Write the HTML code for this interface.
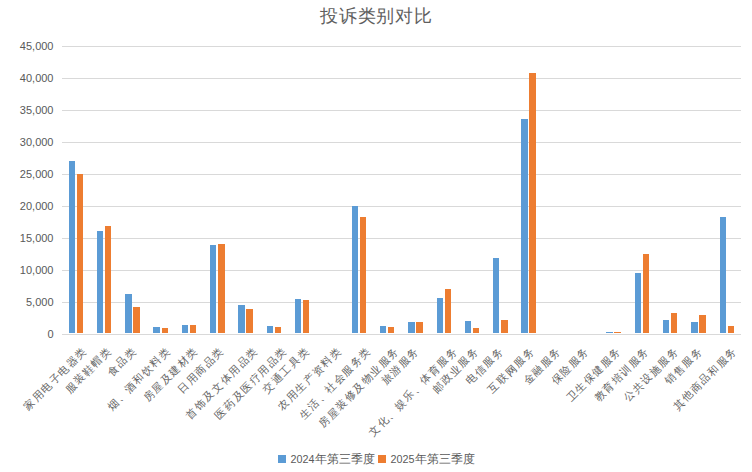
<!DOCTYPE html><html><head><meta charset="utf-8"><style>html,body{margin:0;padding:0;background:#fff;}body{width:752px;height:472px;overflow:hidden;position:relative;}svg{position:absolute;left:0;top:0;}</style></head><body>
<svg width="752" height="472" viewBox="0 0 752 472" font-family="'Liberation Sans', sans-serif">
<rect x="62" y="46" width="679" height="1" fill="#d9d9d9"/>
<rect x="62" y="78" width="679" height="1" fill="#d9d9d9"/>
<rect x="62" y="110" width="679" height="1" fill="#d9d9d9"/>
<rect x="62" y="142" width="679" height="1" fill="#d9d9d9"/>
<rect x="62" y="174" width="679" height="1" fill="#d9d9d9"/>
<rect x="62" y="206" width="679" height="1" fill="#d9d9d9"/>
<rect x="62" y="238" width="679" height="1" fill="#d9d9d9"/>
<rect x="62" y="270" width="679" height="1" fill="#d9d9d9"/>
<rect x="62" y="302" width="679" height="1" fill="#d9d9d9"/>
<rect x="62" y="334" width="679" height="1" fill="#d9d9d9"/>
<text x="53.5" y="49.8" text-anchor="end" font-size="11" fill="#595959">45,000</text>
<text x="53.5" y="81.8" text-anchor="end" font-size="11" fill="#595959">40,000</text>
<text x="53.5" y="113.8" text-anchor="end" font-size="11" fill="#595959">35,000</text>
<text x="53.5" y="145.8" text-anchor="end" font-size="11" fill="#595959">30,000</text>
<text x="53.5" y="177.8" text-anchor="end" font-size="11" fill="#595959">25,000</text>
<text x="53.5" y="209.8" text-anchor="end" font-size="11" fill="#595959">20,000</text>
<text x="53.5" y="241.8" text-anchor="end" font-size="11" fill="#595959">15,000</text>
<text x="53.5" y="273.8" text-anchor="end" font-size="11" fill="#595959">10,000</text>
<text x="53.5" y="305.8" text-anchor="end" font-size="11" fill="#595959">5,000</text>
<text x="53.5" y="337.8" text-anchor="end" font-size="11" fill="#595959">0</text>
<rect x="69" y="161" width="6" height="172" fill="#5b9bd5"/>
<rect x="77" y="174" width="6" height="159" fill="#ed7d31"/>
<rect x="97" y="231" width="6" height="102" fill="#5b9bd5"/>
<rect x="105" y="226" width="6" height="107" fill="#ed7d31"/>
<rect x="125" y="294" width="7" height="39" fill="#5b9bd5"/>
<rect x="133" y="307" width="7" height="26" fill="#ed7d31"/>
<rect x="153" y="327" width="7" height="6" fill="#5b9bd5"/>
<rect x="162" y="328" width="6" height="5" fill="#ed7d31"/>
<rect x="182" y="325" width="6" height="8" fill="#5b9bd5"/>
<rect x="190" y="325" width="6" height="8" fill="#ed7d31"/>
<rect x="210" y="245" width="6" height="88" fill="#5b9bd5"/>
<rect x="218" y="244" width="7" height="89" fill="#ed7d31"/>
<rect x="238" y="305" width="7" height="28" fill="#5b9bd5"/>
<rect x="246" y="309" width="7" height="24" fill="#ed7d31"/>
<rect x="267" y="326" width="6" height="7" fill="#5b9bd5"/>
<rect x="275" y="327" width="6" height="6" fill="#ed7d31"/>
<rect x="295" y="299" width="6" height="34" fill="#5b9bd5"/>
<rect x="303" y="300" width="6" height="33" fill="#ed7d31"/>
<rect x="352" y="206" width="6" height="127" fill="#5b9bd5"/>
<rect x="360" y="217" width="6" height="116" fill="#ed7d31"/>
<rect x="380" y="326" width="6" height="7" fill="#5b9bd5"/>
<rect x="388" y="327" width="6" height="6" fill="#ed7d31"/>
<rect x="408" y="322" width="7" height="11" fill="#5b9bd5"/>
<rect x="416" y="322" width="7" height="11" fill="#ed7d31"/>
<rect x="437" y="298" width="6" height="35" fill="#5b9bd5"/>
<rect x="445" y="289" width="6" height="44" fill="#ed7d31"/>
<rect x="465" y="321" width="6" height="12" fill="#5b9bd5"/>
<rect x="473" y="328" width="6" height="5" fill="#ed7d31"/>
<rect x="493" y="258" width="6" height="75" fill="#5b9bd5"/>
<rect x="501" y="320" width="7" height="13" fill="#ed7d31"/>
<rect x="521" y="119" width="7" height="214" fill="#5b9bd5"/>
<rect x="529" y="73" width="7" height="260" fill="#ed7d31"/>
<rect x="606" y="332" width="7" height="1" fill="#5b9bd5"/>
<rect x="614" y="332" width="7" height="1" fill="#ed7d31"/>
<rect x="635" y="273" width="6" height="60" fill="#5b9bd5"/>
<rect x="643" y="254" width="6" height="79" fill="#ed7d31"/>
<rect x="663" y="320" width="6" height="13" fill="#5b9bd5"/>
<rect x="671" y="313" width="6" height="20" fill="#ed7d31"/>
<rect x="691" y="322" width="7" height="11" fill="#5b9bd5"/>
<rect x="699" y="315" width="7" height="18" fill="#ed7d31"/>
<rect x="720" y="217" width="6" height="116" fill="#5b9bd5"/>
<rect x="728" y="326" width="6" height="7" fill="#ed7d31"/>
<text x="29.11" y="404.24" text-anchor="middle" dominant-baseline="central" font-size="10.6" font-weight="400" fill="#646464" transform="rotate(-45 29.11 404.24)">家</text>
<text x="37.67" y="395.68" text-anchor="middle" dominant-baseline="central" font-size="10.6" font-weight="400" fill="#646464" transform="rotate(-45 37.67 395.68)">用</text>
<text x="46.22" y="387.12" text-anchor="middle" dominant-baseline="central" font-size="10.6" font-weight="400" fill="#646464" transform="rotate(-45 46.22 387.12)">电</text>
<text x="54.78" y="378.57" text-anchor="middle" dominant-baseline="central" font-size="10.6" font-weight="400" fill="#646464" transform="rotate(-45 54.78 378.57)">子</text>
<text x="63.33" y="370.01" text-anchor="middle" dominant-baseline="central" font-size="10.6" font-weight="400" fill="#646464" transform="rotate(-45 63.33 370.01)">电</text>
<text x="71.89" y="361.46" text-anchor="middle" dominant-baseline="central" font-size="10.6" font-weight="400" fill="#646464" transform="rotate(-45 71.89 361.46)">器</text>
<text x="80.45" y="352.90" text-anchor="middle" dominant-baseline="central" font-size="10.6" font-weight="400" fill="#646464" transform="rotate(-45 80.45 352.90)">类</text>
<text x="70.71" y="387.12" text-anchor="middle" dominant-baseline="central" font-size="10.6" font-weight="400" fill="#646464" transform="rotate(-45 70.71 387.12)">服</text>
<text x="79.27" y="378.57" text-anchor="middle" dominant-baseline="central" font-size="10.6" font-weight="400" fill="#646464" transform="rotate(-45 79.27 378.57)">装</text>
<text x="87.83" y="370.01" text-anchor="middle" dominant-baseline="central" font-size="10.6" font-weight="400" fill="#646464" transform="rotate(-45 87.83 370.01)">鞋</text>
<text x="96.38" y="361.46" text-anchor="middle" dominant-baseline="central" font-size="10.6" font-weight="400" fill="#646464" transform="rotate(-45 96.38 361.46)">帽</text>
<text x="104.94" y="352.90" text-anchor="middle" dominant-baseline="central" font-size="10.6" font-weight="400" fill="#646464" transform="rotate(-45 104.94 352.90)">类</text>
<text x="112.72" y="370.01" text-anchor="middle" dominant-baseline="central" font-size="10.6" font-weight="400" fill="#646464" transform="rotate(-45 112.72 370.01)">食</text>
<text x="121.27" y="361.46" text-anchor="middle" dominant-baseline="central" font-size="10.6" font-weight="400" fill="#646464" transform="rotate(-45 121.27 361.46)">品</text>
<text x="129.83" y="352.90" text-anchor="middle" dominant-baseline="central" font-size="10.6" font-weight="400" fill="#646464" transform="rotate(-45 129.83 352.90)">类</text>
<text x="112.78" y="404.24" text-anchor="middle" dominant-baseline="central" font-size="10.6" font-weight="400" fill="#646464" transform="rotate(-45 112.78 404.24)">烟</text>
<text x="121.34" y="395.68" text-anchor="middle" dominant-baseline="central" font-size="10.6" font-weight="400" fill="#646464" transform="rotate(-45 121.34 395.68)">、</text>
<text x="129.90" y="387.12" text-anchor="middle" dominant-baseline="central" font-size="10.6" font-weight="400" fill="#646464" transform="rotate(-45 129.90 387.12)">酒</text>
<text x="138.45" y="378.57" text-anchor="middle" dominant-baseline="central" font-size="10.6" font-weight="400" fill="#646464" transform="rotate(-45 138.45 378.57)">和</text>
<text x="147.01" y="370.01" text-anchor="middle" dominant-baseline="central" font-size="10.6" font-weight="400" fill="#646464" transform="rotate(-45 147.01 370.01)">饮</text>
<text x="155.56" y="361.46" text-anchor="middle" dominant-baseline="central" font-size="10.6" font-weight="400" fill="#646464" transform="rotate(-45 155.56 361.46)">料</text>
<text x="164.12" y="352.90" text-anchor="middle" dominant-baseline="central" font-size="10.6" font-weight="400" fill="#646464" transform="rotate(-45 164.12 352.90)">类</text>
<text x="148.63" y="395.68" text-anchor="middle" dominant-baseline="central" font-size="10.6" font-weight="400" fill="#646464" transform="rotate(-45 148.63 395.68)">房</text>
<text x="157.19" y="387.12" text-anchor="middle" dominant-baseline="central" font-size="10.6" font-weight="400" fill="#646464" transform="rotate(-45 157.19 387.12)">屋</text>
<text x="165.74" y="378.57" text-anchor="middle" dominant-baseline="central" font-size="10.6" font-weight="400" fill="#646464" transform="rotate(-45 165.74 378.57)">及</text>
<text x="174.30" y="370.01" text-anchor="middle" dominant-baseline="central" font-size="10.6" font-weight="400" fill="#646464" transform="rotate(-45 174.30 370.01)">建</text>
<text x="182.86" y="361.46" text-anchor="middle" dominant-baseline="central" font-size="10.6" font-weight="400" fill="#646464" transform="rotate(-45 182.86 361.46)">材</text>
<text x="191.41" y="352.90" text-anchor="middle" dominant-baseline="central" font-size="10.6" font-weight="400" fill="#646464" transform="rotate(-45 191.41 352.90)">类</text>
<text x="183.18" y="387.12" text-anchor="middle" dominant-baseline="central" font-size="10.6" font-weight="400" fill="#646464" transform="rotate(-45 183.18 387.12)">日</text>
<text x="191.74" y="378.57" text-anchor="middle" dominant-baseline="central" font-size="10.6" font-weight="400" fill="#646464" transform="rotate(-45 191.74 378.57)">用</text>
<text x="200.29" y="370.01" text-anchor="middle" dominant-baseline="central" font-size="10.6" font-weight="400" fill="#646464" transform="rotate(-45 200.29 370.01)">商</text>
<text x="208.85" y="361.46" text-anchor="middle" dominant-baseline="central" font-size="10.6" font-weight="400" fill="#646464" transform="rotate(-45 208.85 361.46)">品</text>
<text x="217.40" y="352.90" text-anchor="middle" dominant-baseline="central" font-size="10.6" font-weight="400" fill="#646464" transform="rotate(-45 217.40 352.90)">类</text>
<text x="191.40" y="412.79" text-anchor="middle" dominant-baseline="central" font-size="10.6" font-weight="400" fill="#646464" transform="rotate(-45 191.40 412.79)">首</text>
<text x="199.96" y="404.24" text-anchor="middle" dominant-baseline="central" font-size="10.6" font-weight="400" fill="#646464" transform="rotate(-45 199.96 404.24)">饰</text>
<text x="208.52" y="395.68" text-anchor="middle" dominant-baseline="central" font-size="10.6" font-weight="400" fill="#646464" transform="rotate(-45 208.52 395.68)">及</text>
<text x="217.07" y="387.12" text-anchor="middle" dominant-baseline="central" font-size="10.6" font-weight="400" fill="#646464" transform="rotate(-45 217.07 387.12)">文</text>
<text x="225.63" y="378.57" text-anchor="middle" dominant-baseline="central" font-size="10.6" font-weight="400" fill="#646464" transform="rotate(-45 225.63 378.57)">体</text>
<text x="234.18" y="370.01" text-anchor="middle" dominant-baseline="central" font-size="10.6" font-weight="400" fill="#646464" transform="rotate(-45 234.18 370.01)">用</text>
<text x="242.74" y="361.46" text-anchor="middle" dominant-baseline="central" font-size="10.6" font-weight="400" fill="#646464" transform="rotate(-45 242.74 361.46)">品</text>
<text x="251.30" y="352.90" text-anchor="middle" dominant-baseline="central" font-size="10.6" font-weight="400" fill="#646464" transform="rotate(-45 251.30 352.90)">类</text>
<text x="220.50" y="412.79" text-anchor="middle" dominant-baseline="central" font-size="10.6" font-weight="400" fill="#646464" transform="rotate(-45 220.50 412.79)">医</text>
<text x="229.05" y="404.24" text-anchor="middle" dominant-baseline="central" font-size="10.6" font-weight="400" fill="#646464" transform="rotate(-45 229.05 404.24)">药</text>
<text x="237.61" y="395.68" text-anchor="middle" dominant-baseline="central" font-size="10.6" font-weight="400" fill="#646464" transform="rotate(-45 237.61 395.68)">及</text>
<text x="246.16" y="387.12" text-anchor="middle" dominant-baseline="central" font-size="10.6" font-weight="400" fill="#646464" transform="rotate(-45 246.16 387.12)">医</text>
<text x="254.72" y="378.57" text-anchor="middle" dominant-baseline="central" font-size="10.6" font-weight="400" fill="#646464" transform="rotate(-45 254.72 378.57)">疗</text>
<text x="263.28" y="370.01" text-anchor="middle" dominant-baseline="central" font-size="10.6" font-weight="400" fill="#646464" transform="rotate(-45 263.28 370.01)">用</text>
<text x="271.83" y="361.46" text-anchor="middle" dominant-baseline="central" font-size="10.6" font-weight="400" fill="#646464" transform="rotate(-45 271.83 361.46)">品</text>
<text x="280.39" y="352.90" text-anchor="middle" dominant-baseline="central" font-size="10.6" font-weight="400" fill="#646464" transform="rotate(-45 280.39 352.90)">类</text>
<text x="268.36" y="387.12" text-anchor="middle" dominant-baseline="central" font-size="10.6" font-weight="400" fill="#646464" transform="rotate(-45 268.36 387.12)">交</text>
<text x="276.91" y="378.57" text-anchor="middle" dominant-baseline="central" font-size="10.6" font-weight="400" fill="#646464" transform="rotate(-45 276.91 378.57)">通</text>
<text x="285.47" y="370.01" text-anchor="middle" dominant-baseline="central" font-size="10.6" font-weight="400" fill="#646464" transform="rotate(-45 285.47 370.01)">工</text>
<text x="294.02" y="361.46" text-anchor="middle" dominant-baseline="central" font-size="10.6" font-weight="400" fill="#646464" transform="rotate(-45 294.02 361.46)">具</text>
<text x="302.58" y="352.90" text-anchor="middle" dominant-baseline="central" font-size="10.6" font-weight="400" fill="#646464" transform="rotate(-45 302.58 352.90)">类</text>
<text x="283.43" y="404.24" text-anchor="middle" dominant-baseline="central" font-size="10.6" font-weight="400" fill="#646464" transform="rotate(-45 283.43 404.24)">农</text>
<text x="291.99" y="395.68" text-anchor="middle" dominant-baseline="central" font-size="10.6" font-weight="400" fill="#646464" transform="rotate(-45 291.99 395.68)">用</text>
<text x="300.55" y="387.12" text-anchor="middle" dominant-baseline="central" font-size="10.6" font-weight="400" fill="#646464" transform="rotate(-45 300.55 387.12)">生</text>
<text x="309.10" y="378.57" text-anchor="middle" dominant-baseline="central" font-size="10.6" font-weight="400" fill="#646464" transform="rotate(-45 309.10 378.57)">产</text>
<text x="317.66" y="370.01" text-anchor="middle" dominant-baseline="central" font-size="10.6" font-weight="400" fill="#646464" transform="rotate(-45 317.66 370.01)">资</text>
<text x="326.21" y="361.46" text-anchor="middle" dominant-baseline="central" font-size="10.6" font-weight="400" fill="#646464" transform="rotate(-45 326.21 361.46)">料</text>
<text x="334.77" y="352.90" text-anchor="middle" dominant-baseline="central" font-size="10.6" font-weight="400" fill="#646464" transform="rotate(-45 334.77 352.90)">类</text>
<text x="304.67" y="412.79" text-anchor="middle" dominant-baseline="central" font-size="10.6" font-weight="400" fill="#646464" transform="rotate(-45 304.67 412.79)">生</text>
<text x="313.23" y="404.24" text-anchor="middle" dominant-baseline="central" font-size="10.6" font-weight="400" fill="#646464" transform="rotate(-45 313.23 404.24)">活</text>
<text x="321.78" y="395.68" text-anchor="middle" dominant-baseline="central" font-size="10.6" font-weight="400" fill="#646464" transform="rotate(-45 321.78 395.68)">、</text>
<text x="330.34" y="387.12" text-anchor="middle" dominant-baseline="central" font-size="10.6" font-weight="400" fill="#646464" transform="rotate(-45 330.34 387.12)">社</text>
<text x="338.89" y="378.57" text-anchor="middle" dominant-baseline="central" font-size="10.6" font-weight="400" fill="#646464" transform="rotate(-45 338.89 378.57)">会</text>
<text x="347.45" y="370.01" text-anchor="middle" dominant-baseline="central" font-size="10.6" font-weight="400" fill="#646464" transform="rotate(-45 347.45 370.01)">服</text>
<text x="356.01" y="361.46" text-anchor="middle" dominant-baseline="central" font-size="10.6" font-weight="400" fill="#646464" transform="rotate(-45 356.01 361.46)">务</text>
<text x="364.56" y="352.90" text-anchor="middle" dominant-baseline="central" font-size="10.6" font-weight="400" fill="#646464" transform="rotate(-45 364.56 352.90)">类</text>
<text x="324.11" y="421.35" text-anchor="middle" dominant-baseline="central" font-size="10.6" font-weight="400" fill="#646464" transform="rotate(-45 324.11 421.35)">房</text>
<text x="332.66" y="412.79" text-anchor="middle" dominant-baseline="central" font-size="10.6" font-weight="400" fill="#646464" transform="rotate(-45 332.66 412.79)">屋</text>
<text x="341.22" y="404.24" text-anchor="middle" dominant-baseline="central" font-size="10.6" font-weight="400" fill="#646464" transform="rotate(-45 341.22 404.24)">装</text>
<text x="349.77" y="395.68" text-anchor="middle" dominant-baseline="central" font-size="10.6" font-weight="400" fill="#646464" transform="rotate(-45 349.77 395.68)">修</text>
<text x="358.33" y="387.12" text-anchor="middle" dominant-baseline="central" font-size="10.6" font-weight="400" fill="#646464" transform="rotate(-45 358.33 387.12)">及</text>
<text x="366.89" y="378.57" text-anchor="middle" dominant-baseline="central" font-size="10.6" font-weight="400" fill="#646464" transform="rotate(-45 366.89 378.57)">物</text>
<text x="375.44" y="370.01" text-anchor="middle" dominant-baseline="central" font-size="10.6" font-weight="400" fill="#646464" transform="rotate(-45 375.44 370.01)">业</text>
<text x="384.00" y="361.46" text-anchor="middle" dominant-baseline="central" font-size="10.6" font-weight="400" fill="#646464" transform="rotate(-45 384.00 361.46)">服</text>
<text x="392.55" y="352.90" text-anchor="middle" dominant-baseline="central" font-size="10.6" font-weight="400" fill="#646464" transform="rotate(-45 392.55 352.90)">务</text>
<text x="386.88" y="378.57" text-anchor="middle" dominant-baseline="central" font-size="10.6" font-weight="400" fill="#646464" transform="rotate(-45 386.88 378.57)">旅</text>
<text x="395.43" y="370.01" text-anchor="middle" dominant-baseline="central" font-size="10.6" font-weight="400" fill="#646464" transform="rotate(-45 395.43 370.01)">游</text>
<text x="403.99" y="361.46" text-anchor="middle" dominant-baseline="central" font-size="10.6" font-weight="400" fill="#646464" transform="rotate(-45 403.99 361.46)">服</text>
<text x="412.55" y="352.90" text-anchor="middle" dominant-baseline="central" font-size="10.6" font-weight="400" fill="#646464" transform="rotate(-45 412.55 352.90)">务</text>
<text x="374.03" y="429.90" text-anchor="middle" dominant-baseline="central" font-size="10.6" font-weight="400" fill="#646464" transform="rotate(-45 374.03 429.90)">文</text>
<text x="382.59" y="421.35" text-anchor="middle" dominant-baseline="central" font-size="10.6" font-weight="400" fill="#646464" transform="rotate(-45 382.59 421.35)">化</text>
<text x="391.15" y="412.79" text-anchor="middle" dominant-baseline="central" font-size="10.6" font-weight="400" fill="#646464" transform="rotate(-45 391.15 412.79)">、</text>
<text x="399.70" y="404.24" text-anchor="middle" dominant-baseline="central" font-size="10.6" font-weight="400" fill="#646464" transform="rotate(-45 399.70 404.24)">娱</text>
<text x="408.26" y="395.68" text-anchor="middle" dominant-baseline="central" font-size="10.6" font-weight="400" fill="#646464" transform="rotate(-45 408.26 395.68)">乐</text>
<text x="416.81" y="387.12" text-anchor="middle" dominant-baseline="central" font-size="10.6" font-weight="400" fill="#646464" transform="rotate(-45 416.81 387.12)">、</text>
<text x="425.37" y="378.57" text-anchor="middle" dominant-baseline="central" font-size="10.6" font-weight="400" fill="#646464" transform="rotate(-45 425.37 378.57)">体</text>
<text x="433.93" y="370.01" text-anchor="middle" dominant-baseline="central" font-size="10.6" font-weight="400" fill="#646464" transform="rotate(-45 433.93 370.01)">育</text>
<text x="442.48" y="361.46" text-anchor="middle" dominant-baseline="central" font-size="10.6" font-weight="400" fill="#646464" transform="rotate(-45 442.48 361.46)">服</text>
<text x="451.04" y="352.90" text-anchor="middle" dominant-baseline="central" font-size="10.6" font-weight="400" fill="#646464" transform="rotate(-45 451.04 352.90)">务</text>
<text x="437.81" y="387.12" text-anchor="middle" dominant-baseline="central" font-size="10.6" font-weight="400" fill="#646464" transform="rotate(-45 437.81 387.12)">邮</text>
<text x="446.36" y="378.57" text-anchor="middle" dominant-baseline="central" font-size="10.6" font-weight="400" fill="#646464" transform="rotate(-45 446.36 378.57)">政</text>
<text x="454.92" y="370.01" text-anchor="middle" dominant-baseline="central" font-size="10.6" font-weight="400" fill="#646464" transform="rotate(-45 454.92 370.01)">业</text>
<text x="463.47" y="361.46" text-anchor="middle" dominant-baseline="central" font-size="10.6" font-weight="400" fill="#646464" transform="rotate(-45 463.47 361.46)">服</text>
<text x="472.03" y="352.90" text-anchor="middle" dominant-baseline="central" font-size="10.6" font-weight="400" fill="#646464" transform="rotate(-45 472.03 352.90)">务</text>
<text x="471.35" y="378.57" text-anchor="middle" dominant-baseline="central" font-size="10.6" font-weight="400" fill="#646464" transform="rotate(-45 471.35 378.57)">电</text>
<text x="479.91" y="370.01" text-anchor="middle" dominant-baseline="central" font-size="10.6" font-weight="400" fill="#646464" transform="rotate(-45 479.91 370.01)">信</text>
<text x="488.46" y="361.46" text-anchor="middle" dominant-baseline="central" font-size="10.6" font-weight="400" fill="#646464" transform="rotate(-45 488.46 361.46)">服</text>
<text x="497.02" y="352.90" text-anchor="middle" dominant-baseline="central" font-size="10.6" font-weight="400" fill="#646464" transform="rotate(-45 497.02 352.90)">务</text>
<text x="493.49" y="387.12" text-anchor="middle" dominant-baseline="central" font-size="10.6" font-weight="400" fill="#646464" transform="rotate(-45 493.49 387.12)">互</text>
<text x="502.04" y="378.57" text-anchor="middle" dominant-baseline="central" font-size="10.6" font-weight="400" fill="#646464" transform="rotate(-45 502.04 378.57)">联</text>
<text x="510.60" y="370.01" text-anchor="middle" dominant-baseline="central" font-size="10.6" font-weight="400" fill="#646464" transform="rotate(-45 510.60 370.01)">网</text>
<text x="519.16" y="361.46" text-anchor="middle" dominant-baseline="central" font-size="10.6" font-weight="400" fill="#646464" transform="rotate(-45 519.16 361.46)">服</text>
<text x="527.71" y="352.90" text-anchor="middle" dominant-baseline="central" font-size="10.6" font-weight="400" fill="#646464" transform="rotate(-45 527.71 352.90)">务</text>
<text x="528.84" y="378.57" text-anchor="middle" dominant-baseline="central" font-size="10.6" font-weight="400" fill="#646464" transform="rotate(-45 528.84 378.57)">金</text>
<text x="537.39" y="370.01" text-anchor="middle" dominant-baseline="central" font-size="10.6" font-weight="400" fill="#646464" transform="rotate(-45 537.39 370.01)">融</text>
<text x="545.95" y="361.46" text-anchor="middle" dominant-baseline="central" font-size="10.6" font-weight="400" fill="#646464" transform="rotate(-45 545.95 361.46)">服</text>
<text x="554.50" y="352.90" text-anchor="middle" dominant-baseline="central" font-size="10.6" font-weight="400" fill="#646464" transform="rotate(-45 554.50 352.90)">务</text>
<text x="556.83" y="378.57" text-anchor="middle" dominant-baseline="central" font-size="10.6" font-weight="400" fill="#646464" transform="rotate(-45 556.83 378.57)">保</text>
<text x="565.38" y="370.01" text-anchor="middle" dominant-baseline="central" font-size="10.6" font-weight="400" fill="#646464" transform="rotate(-45 565.38 370.01)">险</text>
<text x="573.94" y="361.46" text-anchor="middle" dominant-baseline="central" font-size="10.6" font-weight="400" fill="#646464" transform="rotate(-45 573.94 361.46)">服</text>
<text x="582.50" y="352.90" text-anchor="middle" dominant-baseline="central" font-size="10.6" font-weight="400" fill="#646464" transform="rotate(-45 582.50 352.90)">务</text>
<text x="571.61" y="395.68" text-anchor="middle" dominant-baseline="central" font-size="10.6" font-weight="400" fill="#646464" transform="rotate(-45 571.61 395.68)">卫</text>
<text x="580.16" y="387.12" text-anchor="middle" dominant-baseline="central" font-size="10.6" font-weight="400" fill="#646464" transform="rotate(-45 580.16 387.12)">生</text>
<text x="588.72" y="378.57" text-anchor="middle" dominant-baseline="central" font-size="10.6" font-weight="400" fill="#646464" transform="rotate(-45 588.72 378.57)">保</text>
<text x="597.28" y="370.01" text-anchor="middle" dominant-baseline="central" font-size="10.6" font-weight="400" fill="#646464" transform="rotate(-45 597.28 370.01)">健</text>
<text x="605.83" y="361.46" text-anchor="middle" dominant-baseline="central" font-size="10.6" font-weight="400" fill="#646464" transform="rotate(-45 605.83 361.46)">服</text>
<text x="614.39" y="352.90" text-anchor="middle" dominant-baseline="central" font-size="10.6" font-weight="400" fill="#646464" transform="rotate(-45 614.39 352.90)">务</text>
<text x="599.60" y="395.68" text-anchor="middle" dominant-baseline="central" font-size="10.6" font-weight="400" fill="#646464" transform="rotate(-45 599.60 395.68)">教</text>
<text x="608.16" y="387.12" text-anchor="middle" dominant-baseline="central" font-size="10.6" font-weight="400" fill="#646464" transform="rotate(-45 608.16 387.12)">育</text>
<text x="616.71" y="378.57" text-anchor="middle" dominant-baseline="central" font-size="10.6" font-weight="400" fill="#646464" transform="rotate(-45 616.71 378.57)">培</text>
<text x="625.27" y="370.01" text-anchor="middle" dominant-baseline="central" font-size="10.6" font-weight="400" fill="#646464" transform="rotate(-45 625.27 370.01)">训</text>
<text x="633.82" y="361.46" text-anchor="middle" dominant-baseline="central" font-size="10.6" font-weight="400" fill="#646464" transform="rotate(-45 633.82 361.46)">服</text>
<text x="642.38" y="352.90" text-anchor="middle" dominant-baseline="central" font-size="10.6" font-weight="400" fill="#646464" transform="rotate(-45 642.38 352.90)">务</text>
<text x="629.19" y="395.68" text-anchor="middle" dominant-baseline="central" font-size="10.6" font-weight="400" fill="#646464" transform="rotate(-45 629.19 395.68)">公</text>
<text x="637.75" y="387.12" text-anchor="middle" dominant-baseline="central" font-size="10.6" font-weight="400" fill="#646464" transform="rotate(-45 637.75 387.12)">共</text>
<text x="646.30" y="378.57" text-anchor="middle" dominant-baseline="central" font-size="10.6" font-weight="400" fill="#646464" transform="rotate(-45 646.30 378.57)">设</text>
<text x="654.86" y="370.01" text-anchor="middle" dominant-baseline="central" font-size="10.6" font-weight="400" fill="#646464" transform="rotate(-45 654.86 370.01)">施</text>
<text x="663.41" y="361.46" text-anchor="middle" dominant-baseline="central" font-size="10.6" font-weight="400" fill="#646464" transform="rotate(-45 663.41 361.46)">服</text>
<text x="671.97" y="352.90" text-anchor="middle" dominant-baseline="central" font-size="10.6" font-weight="400" fill="#646464" transform="rotate(-45 671.97 352.90)">务</text>
<text x="670.29" y="378.57" text-anchor="middle" dominant-baseline="central" font-size="10.6" font-weight="400" fill="#646464" transform="rotate(-45 670.29 378.57)">销</text>
<text x="678.85" y="370.01" text-anchor="middle" dominant-baseline="central" font-size="10.6" font-weight="400" fill="#646464" transform="rotate(-45 678.85 370.01)">售</text>
<text x="687.41" y="361.46" text-anchor="middle" dominant-baseline="central" font-size="10.6" font-weight="400" fill="#646464" transform="rotate(-45 687.41 361.46)">服</text>
<text x="695.96" y="352.90" text-anchor="middle" dominant-baseline="central" font-size="10.6" font-weight="400" fill="#646464" transform="rotate(-45 695.96 352.90)">务</text>
<text x="678.82" y="404.24" text-anchor="middle" dominant-baseline="central" font-size="10.6" font-weight="400" fill="#646464" transform="rotate(-45 678.82 404.24)">其</text>
<text x="687.37" y="395.68" text-anchor="middle" dominant-baseline="central" font-size="10.6" font-weight="400" fill="#646464" transform="rotate(-45 687.37 395.68)">他</text>
<text x="695.93" y="387.12" text-anchor="middle" dominant-baseline="central" font-size="10.6" font-weight="400" fill="#646464" transform="rotate(-45 695.93 387.12)">商</text>
<text x="704.49" y="378.57" text-anchor="middle" dominant-baseline="central" font-size="10.6" font-weight="400" fill="#646464" transform="rotate(-45 704.49 378.57)">品</text>
<text x="713.04" y="370.01" text-anchor="middle" dominant-baseline="central" font-size="10.6" font-weight="400" fill="#646464" transform="rotate(-45 713.04 370.01)">和</text>
<text x="721.60" y="361.46" text-anchor="middle" dominant-baseline="central" font-size="10.6" font-weight="400" fill="#646464" transform="rotate(-45 721.60 361.46)">服</text>
<text x="730.15" y="352.90" text-anchor="middle" dominant-baseline="central" font-size="10.6" font-weight="400" fill="#646464" transform="rotate(-45 730.15 352.90)">务</text>
<text x="376.4" y="22.3" text-anchor="middle" font-size="18" letter-spacing="0.8" fill="#5f5f5f">投诉类别对比</text>
<rect x="278" y="455" width="8" height="8" fill="#5b9bd5"/>
<text x="290.5" y="462.8" font-size="11.5" fill="#595959"><tspan font-size="10.8">2024</tspan>年第三季度</text>
<rect x="378" y="455" width="8" height="8" fill="#ed7d31"/>
<text x="390.5" y="462.8" font-size="11.5" fill="#595959"><tspan font-size="10.8">2025</tspan>年第三季度</text>
</svg></body></html>
